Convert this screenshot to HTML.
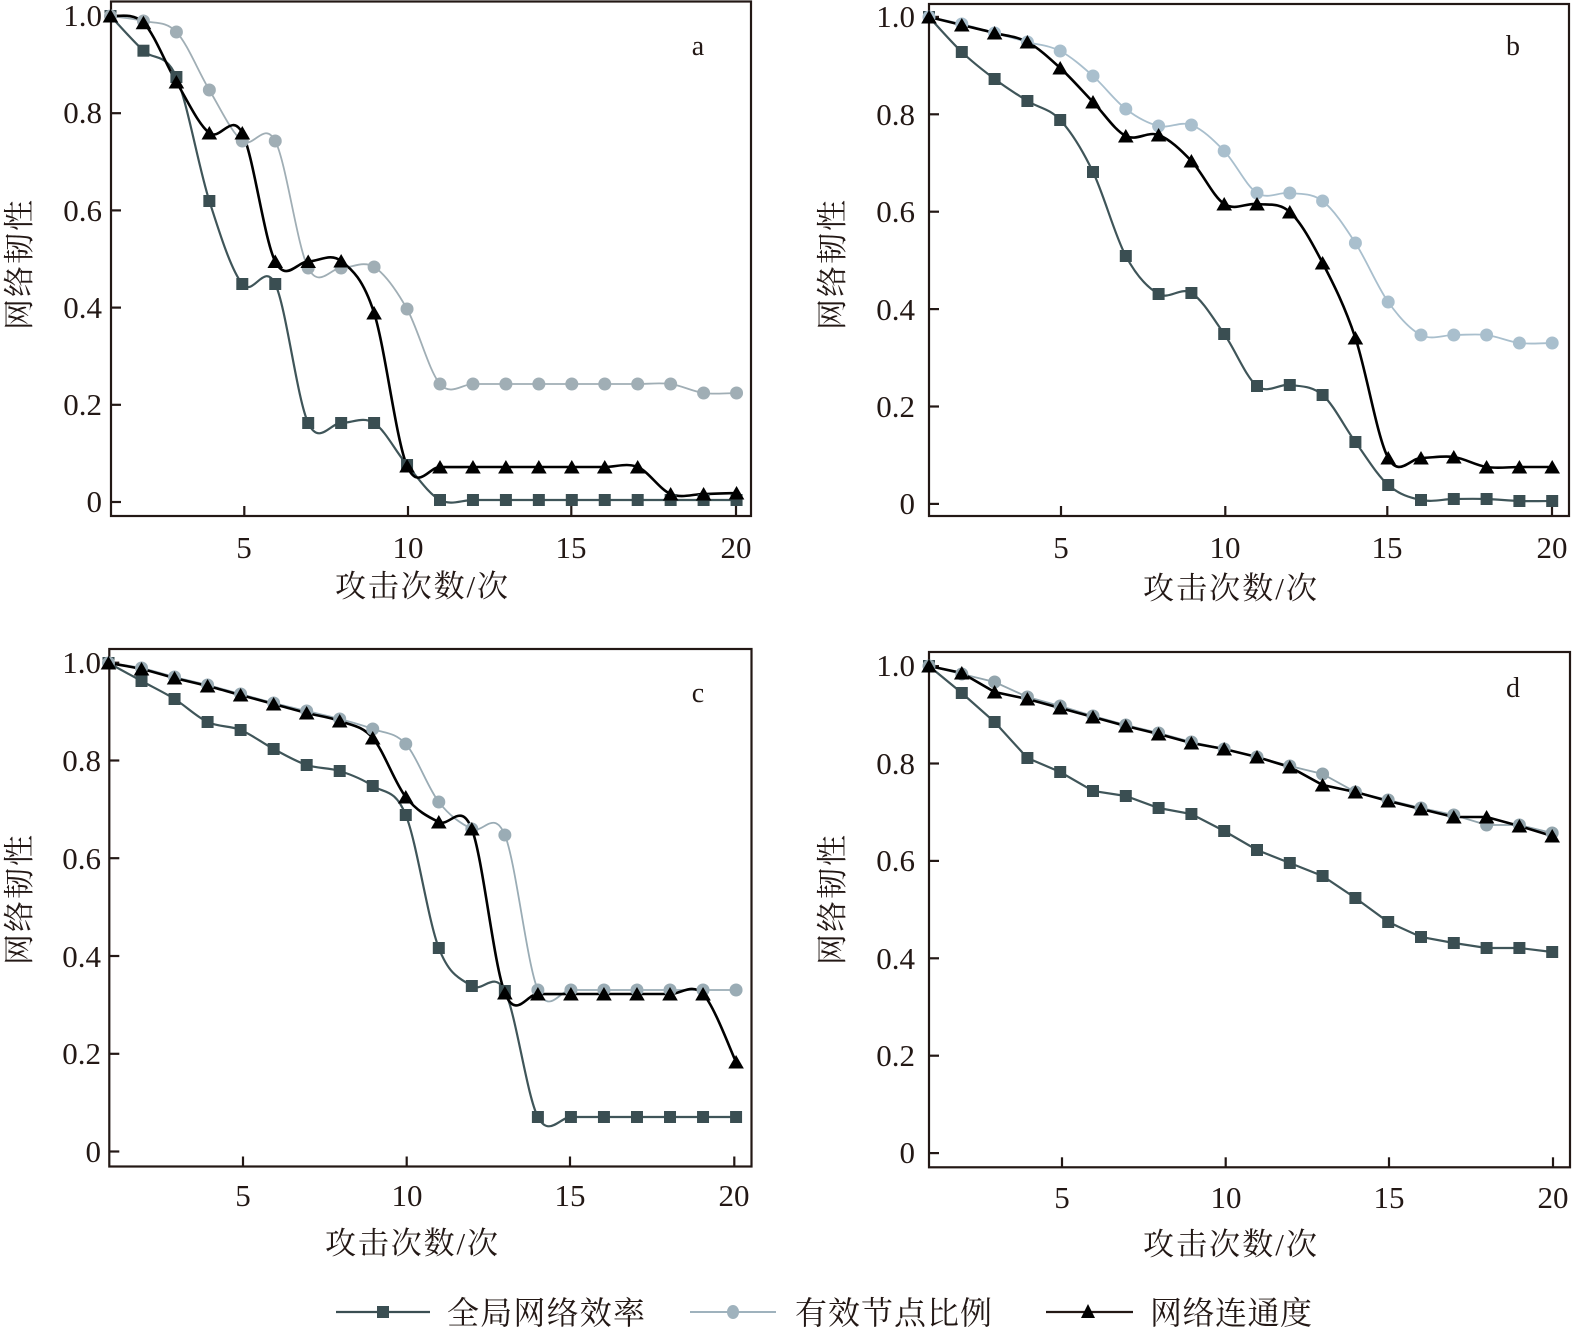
<!DOCTYPE html>
<html>
<head>
<meta charset="utf-8">
<style>
html,body{margin:0;padding:0;background:#fff;}
svg{display:block;}
.t{font-family:"Liberation Serif","Noto Serif CJK SC",serif;fill:#231815;}
.n{font-size:31px;}
.c{font-family:"Liberation Serif","Noto Serif CJK SC","Noto Sans CJK SC",serif;fill:#231815;}
</style>
</head>
<body>
<svg id="s" width="1573" height="1337" viewBox="0 0 1573 1337" xmlns="http://www.w3.org/2000/svg">
<rect width="1573" height="1337" fill="#fff"/>
<g id="plots"></g>

<!-- Panel a text -->
<g class="t n" text-anchor="end">
<text x="102" y="26">1.0</text>
<text x="102" y="123">0.8</text>
<text x="102" y="221">0.6</text>
<text x="102" y="318">0.4</text>
<text x="102" y="415">0.2</text>
<text x="102" y="512">0</text>
</g>
<g class="t n" text-anchor="middle">
<text x="244" y="558">5</text>
<text x="408" y="558">10</text>
<text x="571" y="558">15</text>
<text x="736" y="558">20</text>
</g>
<text class="t" x="698" y="55" font-size="28" text-anchor="middle">a</text>
<text class="c" x="335" y="597" font-size="31" textLength="173" lengthAdjust="spacing">攻击次数/次</text>
<text class="c" transform="translate(30,330) rotate(-90)" font-size="31" textLength="130" lengthAdjust="spacing">网络韧性</text>

<!-- Panel b text -->
<g class="t n" text-anchor="end">
<text x="915" y="27">1.0</text>
<text x="915" y="125">0.8</text>
<text x="915" y="222">0.6</text>
<text x="915" y="320">0.4</text>
<text x="915" y="417">0.2</text>
<text x="915" y="514">0</text>
</g>
<g class="t n" text-anchor="middle">
<text x="1061" y="558">5</text>
<text x="1225" y="558">10</text>
<text x="1387" y="558">15</text>
<text x="1552" y="558">20</text>
</g>
<text class="t" x="1513" y="55" font-size="28" text-anchor="middle">b</text>
<text class="c" x="1143" y="599" font-size="31" textLength="174" lengthAdjust="spacing">攻击次数/次</text>
<text class="c" transform="translate(843,330) rotate(-90)" font-size="31" textLength="130" lengthAdjust="spacing">网络韧性</text>

<!-- Panel c text -->
<g class="t n" text-anchor="end">
<text x="101" y="673">1.0</text>
<text x="101" y="771">0.8</text>
<text x="101" y="869">0.6</text>
<text x="101" y="967">0.4</text>
<text x="101" y="1064">0.2</text>
<text x="101" y="1162">0</text>
</g>
<g class="t n" text-anchor="middle">
<text x="243" y="1206">5</text>
<text x="407" y="1206">10</text>
<text x="570" y="1206">15</text>
<text x="734" y="1206">20</text>
</g>
<text class="t" x="698" y="702" font-size="28" text-anchor="middle">c</text>
<text class="c" x="325" y="1254" font-size="31" textLength="173" lengthAdjust="spacing">攻击次数/次</text>
<text class="c" transform="translate(30,965) rotate(-90)" font-size="31" textLength="130" lengthAdjust="spacing">网络韧性</text>

<!-- Panel d text -->
<g class="t n" text-anchor="end">
<text x="915" y="676">1.0</text>
<text x="915" y="774">0.8</text>
<text x="915" y="871">0.6</text>
<text x="915" y="969">0.4</text>
<text x="915" y="1066">0.2</text>
<text x="915" y="1163">0</text>
</g>
<g class="t n" text-anchor="middle">
<text x="1062" y="1208">5</text>
<text x="1226" y="1208">10</text>
<text x="1389" y="1208">15</text>
<text x="1553" y="1208">20</text>
</g>
<text class="t" x="1513" y="697" font-size="28" text-anchor="middle">d</text>
<text class="c" x="1143" y="1255" font-size="31" textLength="174" lengthAdjust="spacing">攻击次数/次</text>
<text class="c" transform="translate(843,965) rotate(-90)" font-size="31" textLength="130" lengthAdjust="spacing">网络韧性</text>

<!-- Legend -->
<line x1="336" y1="1312" x2="430" y2="1312" stroke="#3a4e52" stroke-width="2.2"/>
<rect x="377" y="1306" width="12" height="12" fill="#3a4e52"/>
<text class="c" x="447" y="1324" font-size="32" textLength="198" lengthAdjust="spacing">全局网络效率</text>
<line x1="690" y1="1312" x2="776" y2="1312" stroke="#9fb2bd" stroke-width="2"/>
<ellipse cx="733" cy="1312" rx="6" ry="7" fill="#9fb2bd"/>
<text class="c" x="795" y="1324" font-size="32" textLength="197" lengthAdjust="spacing">有效节点比例</text>
<line x1="1046" y1="1312" x2="1133" y2="1312" stroke="#231815" stroke-width="2.2"/>
<polygon points="1088,1304 1081,1318 1095,1318" fill="#000"/>
<text class="c" x="1150" y="1324" font-size="32" textLength="162" lengthAdjust="spacing">网络连通度</text>
</svg>

<script>
(function(){
  var NS="http://www.w3.org/2000/svg";
  var root=document.getElementById("plots");
  function el(tag,attrs){var e=document.createElementNS(NS,tag);for(var k in attrs)e.setAttribute(k,attrs[k]);root.appendChild(e);return e;}
  function cr(p){
    var d="M"+p[0][0]+","+p[0][1];
    for(var i=0;i<p.length-1;i++){
      var p0=p[i-1]||p[i],p1=p[i],p2=p[i+1],p3=p[i+2]||p[i+1];
      var c1=[p1[0]+(p2[0]-p0[0])/6,p1[1]+(p2[1]-p0[1])/6];
      var c2=[p2[0]-(p3[0]-p1[0])/6,p2[1]-(p3[1]-p1[1])/6];
      d+=" C"+c1[0].toFixed(2)+","+c1[1].toFixed(2)+" "+c2[0].toFixed(2)+","+c2[1].toFixed(2)+" "+p2[0].toFixed(2)+","+p2[1].toFixed(2);
    }
    return d;
  }
  function poly(p){return "M"+p.map(function(q){return q[0].toFixed(2)+","+q[1].toFixed(2);}).join(" L");}
  var AX="#231815", SQ="#3a4e52";
  var panels=[
    {L:111,T:1.5,R:751,B:516,x0:110.5,dx:32.95,
     yt:[16,113.2,210.4,307.6,404.8,502], xt:[244.3,408,571.3,736], smooth:true, cc:"#a0aeb5",
     sq:[16,50.7,77,201,284,284,423,423,423,465,500,500,500,500,500,500,500,500,500,500],
     ci:[16,21,32,90,141,141,268,268,267,309,384,384,384,384,384,384,384,384,393,393],
     tr:[16,22.7,82,133,133,261.5,261.5,261,313,466,467,467,467,467,467,467,467,494,494,493]},
    {L:929,T:4,R:1569,B:516,x0:929,dx:32.8,
     yt:[16.9,114.3,211.7,309.1,406.5,503.9], xt:[1061,1225.3,1387.3,1552], smooth:true, cc:"#a9bfcd",
     sq:[17,52,79,101,120,172,256,294,293,334,386,385,395,442,485,500,499,499,501,501],
     ci:[17,24,33,42,51,76,109,126,125,151,193,193,201,243,302,335,335,335,343,343],
     tr:[17,25,33,42,68,102,136,135,161,204,204,212,263,338,458,458,457,467,467,467]},
    {L:109.3,T:649,R:751.5,B:1166.5,x0:108.5,dx:33.03,
     yt:[662.7,760.5,858.2,956,1053.8,1151.5], xt:[243,406.7,570,734.3], smooth:true, cc:"#9aacb5",
     sq:[663,681,699,722,730,749,765,771,786,815,948,986,991,1117,1117,1117,1117,1117,1117,1117],
     ci:[663,668,677,685,694,703,711,719,729,744,802,829,835,990,990,990,990,990,990,990],
     tr:[663,669,678,686,695,704,713,721,738,797,822,829,993,994,994,994,994,994,994,1062]},
    {L:929,T:652,R:1570,B:1167.3,x0:929,dx:32.8,
     yt:[666.1,763.5,860.9,958.3,1055.7,1153.1], xt:[1062,1225.7,1389,1553], smooth:false, cc:"#93a5ad",
     sq:[666,693,722,758,772,791,796,808,814,831,850,863,876,898,922,937,943,948,948,952],
     ci:[666,674,682,697,706,716,725,733,742,749,757,766,774,792,800,808,815,825,825,833],
     tr:[666,673,692,699,708,717,726,734,743,749,757,767,785,792,801,809,817,817,826,836]}
  ];
  panels.forEach(function(P){
    el("rect",{x:P.L,y:P.T,width:P.R-P.L,height:P.B-P.T,fill:"none",stroke:AX,"stroke-width":2.2});
    P.yt.forEach(function(y){el("line",{x1:P.L,y1:y,x2:P.L+10,y2:y,stroke:AX,"stroke-width":2.2});});
    P.xt.forEach(function(x){el("line",{x1:x,y1:P.B,x2:x,y2:P.B-10,stroke:AX,"stroke-width":2.2});});
    function pts(arr){return arr.map(function(y,i){return [P.x0+i*P.dx,y];});}
    var ps=pts(P.sq), pc=pts(P.ci), pt=pts(P.tr);
    var f=P.smooth?cr:poly;
    el("path",{d:f(ps),fill:"none",stroke:"#3f5559","stroke-width":2.2});
    el("path",{d:f(pc),fill:"none",stroke:P.cc,"stroke-width":1.8});
    el("path",{d:f(pt),fill:"none",stroke:"#000","stroke-width":2.6});
    ps.forEach(function(q){el("rect",{x:q[0]-6,y:q[1]-6,width:12,height:12,fill:SQ});});
    pc.forEach(function(q){el("circle",{cx:q[0],cy:q[1],r:6.5,fill:P.cc});});
    pt.forEach(function(q){el("polygon",{points:q[0]+","+(q[1]-7)+" "+(q[0]-7.8)+","+(q[1]+6.5)+" "+(q[0]+7.8)+","+(q[1]+6.5),fill:"#000"});});
  });
})();
</script>
</body>
</html>
